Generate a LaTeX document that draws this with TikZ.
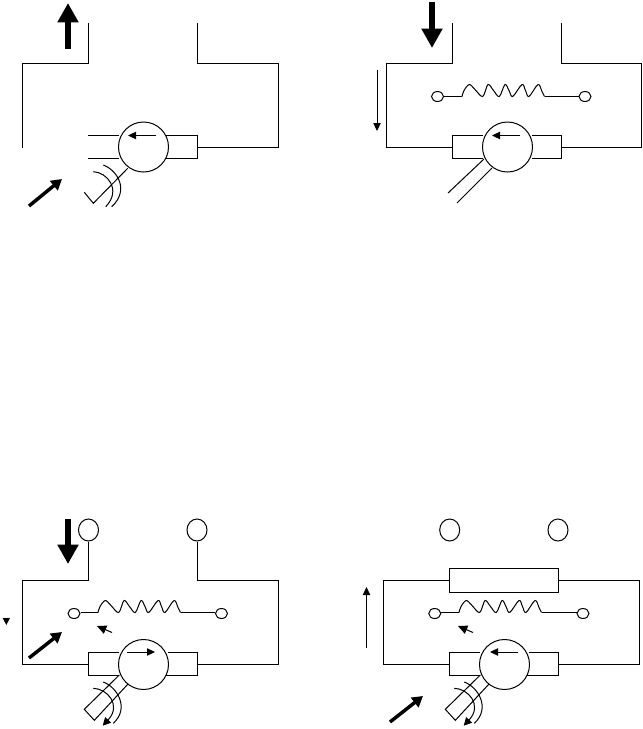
\documentclass[tikz,border=0pt]{standalone}
\usetikzlibrary{arrows.meta,shapes.geometric}
\tikzset{
  wire/.style={line width=0.75pt,black,line join=miter},
  rotor/.style={circle,draw=black,line width=0.75pt,inner sep=0pt,minimum size=37.5pt},
  lug/.style={ellipse,draw=black,line width=0.75pt,inner sep=0pt,minimum width=15pt,minimum height=16.5pt},
  term/.style={ellipse,draw=black,line width=0.75pt,inner sep=0pt,minimum width=9pt,minimum height=7.5pt},
  bigarrow/.style={line width=4.5pt,-{Triangle[length=14.5pt,width=15pt]}},
  midarrow/.style={line width=2.6pt,-{Triangle[length=8pt,width=9pt]}},
  thinarrow/.style={line width=0.75pt,-{Triangle[length=6pt,width=5.5pt]}},
  tiltarrow/.style={line width=0.75pt,-{Triangle[length=7pt,width=6.5pt]}},
}
\newcommand{\coilpath}[2]{%
  \draw[wire,shift={(#1,#2)}] plot[smooth,tension=0.55] coordinates
    {(0,0) (2,-6) (7.3,-12) (13,-7) (20.7,0) (26,-12) (31.5,-6) (37.3,0) (43,-12) (47,-6) (50.7,0) (60,-12) (63.5,-6) (67,0) (76,-12) (80,-5) (82.5,0)};}
\begin{document}
\begin{tikzpicture}[x=0.75pt,y=-0.75pt]
\useasboundingbox (0,0) rectangle (643,729);
% Panel 1
\draw[bigarrow] (68,49) -- (68,3);
\draw[wire] (88.5,23) -- (88.5,63) -- (22.5,63) -- (22.5,148);
\draw[wire] (197.5,23) -- (197.5,63) -- (278.5,63) -- (278.5,147) -- (197.5,147);
\node[rotor] (r1) at (143.5,147) {};
\draw[wire] (88,135.5) -- (119,135.5);
\draw[wire] (88,158) -- (119,158);
\draw[wire] (166,135.5) -- (197.5,135.5) -- (197.5,158) -- (166,158);
\draw[thinarrow] (156,135.5) -- (128,135.5);
\draw[wire] (127.7,168.3) -- (93.3,203.3) -- (84.3,192.3);
\draw[wire] (93.3,171.7) .. controls (107,172) and (122,190) .. (105.7,206.7);
\draw[wire] (103.3,165) .. controls (117,170) and (130,190) .. (111.7,206.7);
\draw[midarrow] (29,206) -- (62,179);
% Panel 2
\draw[bigarrow] (432,2) -- (432,48);
\draw[wire] (452.5,23) -- (452.5,63) -- (386,63) -- (386,147) -- (452.5,147);
\draw[wire] (561.5,23) -- (561.5,63) -- (641.5,63) -- (641.5,147) -- (561.5,147);
\draw[thinarrow] (377,70) -- (377,131);
\node[term] (t2a) at (437.5,96.5) {};
\node[term] (t2b) at (585,96.5) {};
\coordinate (c2a) at (462,96.5);
\coordinate (c2b) at (544.5,96.5);
\draw[wire] (t2a) -- (c2a);
\draw[wire] (c2b) -- (t2b);
\coilpath{462}{96.5}
\node[rotor] (r2) at (507.5,147) {};
\draw[wire] (483,135.5) -- (452.5,135.5) -- (452.5,158) -- (483,158);
\draw[wire] (532,135.5) -- (561.5,135.5) -- (561.5,158) -- (532,158);
\draw[thinarrow] (520,135.5) -- (492,135.5);
\draw[wire] (484,159) -- (448,193);
\draw[wire] (492,168) -- (457,203);
% Panel 3
\draw[bigarrow] (68,519) -- (68,564);
\node[lug] (l3a) at (88.5,530) {};
\node[lug] (l3b) at (197,530) {};
\draw[wire] (l3a) -- (88.5,580.5) -- (22.5,580.5) -- (22.5,664.5) -- (88.5,664.5);
\draw[wire] (l3b) -- (197,580.5) -- (278.5,580.5) -- (278.5,664.5) -- (197.5,664.5);
\node[term] (t3a) at (74,613.5) {};
\node[term] (t3b) at (221.5,613.5) {};
\coordinate (c3a) at (98,612.5);
\coordinate (c3b) at (181,612.5);
\draw[wire] (t3a.east |- c3a) -- (c3a);
\draw[wire] (c3b) -- (t3b.west |- c3b);
\coilpath{98}{612.5}
\fill (2.7,618) -- (10,618) -- (6.3,625) -- cycle;
\draw[tiltarrow] (112,632.5) -- (97,626);
\draw[midarrow] (29,658) -- (62,632);
\node[rotor] (r3) at (143.5,664.5) {};
\draw[wire] (119,652.5) -- (88.5,652.5) -- (88.5,675) -- (119,675);
\draw[wire] (168,652.5) -- (197.5,652.5) -- (197.5,675) -- (166,675);
\draw[thinarrow] (127,652) -- (155,652);
\draw[wire] (119.3,675) -- (84.3,709.3) -- (94.3,720.3) -- (128,684);
\draw[wire,-{Triangle[length=6pt,width=6pt]}] (93.3,688.3) .. controls (107,688.5) and (122,705) .. (102.7,725.7);
\draw[wire] (103.3,682) .. controls (117,687) and (130,708) .. (113.3,723.3);
% Panel 4
\node[lug] (l4a) at (449.7,530) {};
\node[lug] (l4b) at (558,530) {};
\draw[wire] (449.3,568.3) rectangle (558.7,592.3);
\draw[wire] (449.3,580.5) -- (383,580.5) -- (383,664.5) -- (449.3,664.5);
\draw[wire] (558.7,580.5) -- (639.5,580.5) -- (639.5,664.5) -- (558.7,664.5);
\draw[thinarrow] (366.5,648) -- (366.5,587);
\node[term] (t4a) at (434.7,613.5) {};
\node[term] (t4b) at (583,613.5) {};
\coordinate (c4a) at (459,612.5);
\coordinate (c4b) at (542,612.5);
\draw[wire] (t4a.east |- c4a) -- (c4a);
\draw[wire] (c4b) -- (t4b.west |- c4b);
\coilpath{459}{612.5}
\draw[tiltarrow] (473,632.5) -- (458,626);
\node[rotor] (r4) at (504.5,664.5) {};
\draw[wire] (480,652.5) -- (449.5,652.5) -- (449.5,675) -- (480,675);
\draw[wire] (529,652.5) -- (558.5,652.5) -- (558.5,675) -- (527,675);
\draw[thinarrow] (518,652) -- (490,652);
\draw[midarrow] (390,722) -- (423,696);
\draw[wire] (480.3,675) -- (445.3,709.3) -- (455.3,720.3) -- (489,684);
\draw[wire,-{Triangle[length=6pt,width=6pt]}] (454.3,688.3) .. controls (468,688.5) and (483,705) .. (463.7,725.7);
\draw[wire] (464.3,682) .. controls (478,687) and (491,708) .. (474.3,723.3);
\end{tikzpicture}
\end{document}
